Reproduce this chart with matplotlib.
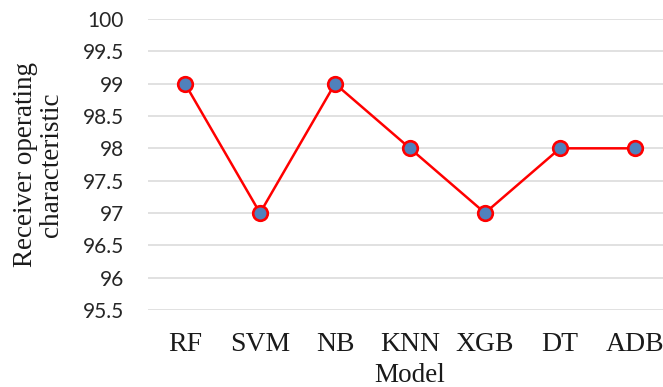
import matplotlib
matplotlib.use("Agg")
import matplotlib.pyplot as plt

models = ["RF", "SVM", "NB", "KNN", "XGB", "DT", "ADB"]
roc = [99, 97, 99, 98, 97, 98, 98]
yticks = [95.5, 96, 96.5, 97, 97.5, 98, 98.5, 99, 99.5, 100]
ytick_labels = ["95.5", "96", "96.5", "97", "97.5", "98", "98.5", "99", "99.5", "100"]

W, H = 663, 387
fig = plt.figure(figsize=(W / 100, H / 100), dpi=100)
left, right, top, bottom = 147.5, 672.5, 19, 310
ax = fig.add_axes([left / W, 1 - bottom / H, (right - left) / W, (bottom - top) / H])

x = list(range(len(models)))
ax.plot(x, roc, color="#ff0000", linewidth=1.8, marker="o", markersize=10.5,
        markerfacecolor="#4f81bd", markeredgecolor="#ff0000", markeredgewidth=1.9,
        zorder=3, clip_on=False)

ax.set_xlim(-0.5, len(models) - 0.5)
ax.set_ylim(95.5, 100)
ax.set_yticks(yticks)
ax.set_yticklabels(ytick_labels, fontfamily="Lato", fontsize=15, color="#262626")
ax.set_xticks(x)
ax.set_xticklabels(models, fontfamily="Liberation Serif", fontsize=20, color="#1a1a1a")
ax.tick_params(axis="both", length=0)
ax.tick_params(axis="y", pad=17)
ax.tick_params(axis="x", pad=16)
ax.grid(axis="y", color="#d9d9d9", linewidth=1.1)
ax.set_axisbelow(True)
for s in ax.spines.values():
    s.set_visible(False)

ax.set_xlabel("Model", fontfamily="Liberation Serif", fontsize=19.5, color="#1a1a1a", va="center")
ax.xaxis.set_label_coords(0.5, (bottom - 375) / (bottom - top))
ax.set_ylabel("Receiver operating\ncharacteristic", fontfamily="Liberation Serif",
              fontsize=19.5, color="#1a1a1a", linespacing=1.07, va="center")
ax.yaxis.set_label_coords((38.5 - left) / (right - left), 0.5)

fig.savefig("out.png", dpi=100, facecolor="white")
